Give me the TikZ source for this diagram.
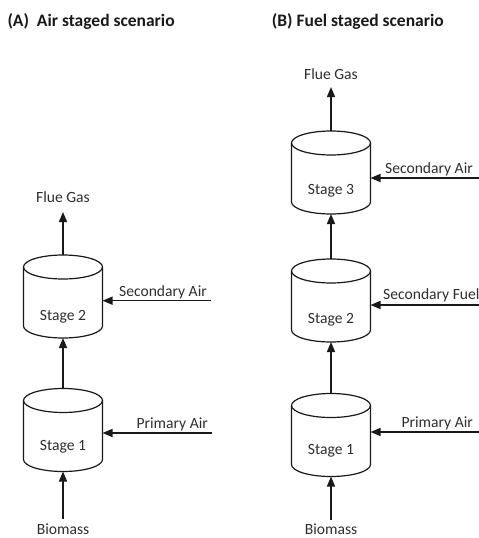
\documentclass[tikz,border=0pt]{standalone}
\usepackage{fontspec}
\setmainfont{Carlito}
\usetikzlibrary{arrows.meta}
% outline of a vertical drum: full top ellipse, sides, front half of the base
\newcommand\drumoutline[1]{%
  \draw[drumline] ([yshift=-12pt]#1.north) ellipse [x radius=39.5pt, y radius=12pt];
  \draw[drumline] ([yshift=-12pt]#1.north west) -- ([yshift=12pt]#1.south west)
    arc[start angle=180, end angle=360, x radius=39.5pt, y radius=12pt]
    -- ([yshift=-12pt]#1.north east);
}
\begin{document}
\begin{tikzpicture}[x=1pt, y=-1pt,
  stagebox/.style={minimum width=79pt, minimum height=83pt, inner sep=0pt, outer sep=0pt},
  drumline/.style={line width=1.2pt, draw=black!90},
  flow/.style={line width=1.5pt, draw=black!90, -{Triangle[length=10pt, width=8pt]}},
  lbl/.style={font=\fontsize{15.6}{18}\selectfont, text=black!82, inner sep=0pt, anchor=base},
  lble/.style={lbl, anchor=base east},
  lblw/.style={lbl, anchor=base west},
  heading/.style={font=\fontsize{17.5}{20}\selectfont\bfseries, text=black!90, inner sep=0pt, anchor=base west}]
\useasboundingbox (0,0) rectangle (479,538);

% headings
\node[heading] (ha) at (7.3,26.7) {(A)\ \ Air staged scenario};
\node[heading] (hb) at (271.7,26.7) {(B) Fuel staged scenario};

% ---------- (A) air staged ----------
\node[stagebox] (s2a) at (63,296.5) {};
\node[stagebox] (s1a) at (63,430) {};
\drumoutline{s2a}
\drumoutline{s1a}
\node[lbl] (t2a) at (63,320) {Stage 2};
\node[lbl] (t1a) at (63,450.7) {Stage 1};

\coordinate (fga) at (63,212);
\coordinate (bma) at (63,519);
\coordinate (saa) at (211,300.7);
\coordinate (paa) at (212,433);

\draw[flow] (s2a.north) -- (fga);
\draw[flow] (s1a.north) -- (s2a.south);
\draw[flow] (bma) -- (s1a.south);
\draw[flow] (saa) -- (saa -| s2a.east);
\draw[flow] (paa) -- (paa -| s1a.east);

\node[lbl] (lfga) at (63,202.7) {Flue Gas};
\node[lbl] (lbma) at (63,534) {Biomass};
\node[lble] (lsaa) at (207,296) {Secondary Air};
\node[lble] (lpaa) at (208,428) {Primary Air};

% ---------- (B) fuel staged ----------
\node[stagebox] (s3b) at (331,172.5) {};
\node[stagebox] (s2b) at (331,300.5) {};
\node[stagebox] (s1b) at (331,435) {};
\drumoutline{s3b}
\drumoutline{s2b}
\drumoutline{s1b}
\node[lbl] (t3b) at (331,194) {Stage 3};
\node[lbl] (t2b) at (331,323.3) {Stage 2};
\node[lbl] (t1b) at (331,454) {Stage 1};

\coordinate (fgb) at (331,87);
\coordinate (bmb) at (331,520);
\coordinate (sab) at (479,178);
\coordinate (sfb) at (479,305);
\coordinate (pab) at (479,432);

\draw[flow] (s3b.north) -- (fgb);
\draw[flow] (s2b.north) -- (s3b.south);
\draw[flow] (s1b.north) -- (s2b.south);
\draw[flow] (bmb) -- (s1b.south);
\draw[flow] (sab) -- (sab -| s3b.east);
\draw[flow] (sfb) -- (sfb -| s2b.east);
\draw[flow] (pab) -- (pab -| s1b.east);

\node[lbl] (lfgb) at (331,79.3) {Flue Gas};
\node[lbl] (lbmb) at (331,534.5) {Biomass};
\node[lble] (lsab) at (473,173.3) {Secondary Air};
\node[lblw] (lsfb) at (383,299) {Secondary Fuel};
\node[lble] (lpab) at (473,427.3) {Primary Air};
\end{tikzpicture}
\end{document}
